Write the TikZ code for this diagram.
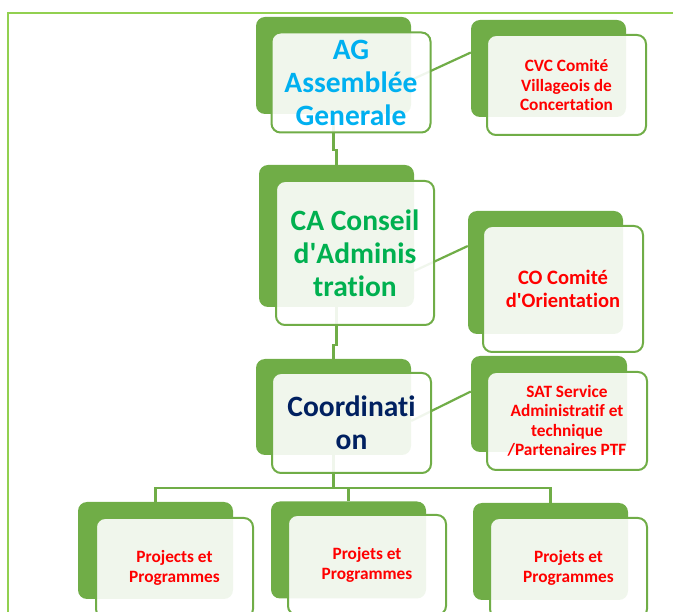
\documentclass[tikz,border=0pt]{standalone}
\usepackage{fontspec}
\setmainfont{Carlito}[Ligatures={TeX,NoCommon}]
\usetikzlibrary{calc}
\definecolor{leaf}{HTML}{70AD47}
\definecolor{framegreen}{HTML}{92D050}
\definecolor{agblue}{HTML}{00B0F0}
\definecolor{cagreen}{HTML}{00B050}
\definecolor{navy}{HTML}{002060}
\pgfdeclarelayer{background}
\pgfsetlayers{background,main}
\tikzset{
  backbox/.style={fill=leaf,rounded corners=9pt,minimum width=155pt,minimum height=97pt,inner sep=0pt},
  frontbox/.style={draw=leaf,line width=2pt,fill=white,fill opacity=0.9,text opacity=1,rounded corners=9pt,minimum width=159pt,minimum height=100pt,inner sep=0pt,align=center},
  bigtext/.style={font=\bfseries\fontsize{29.5}{33}\selectfont},
  smalltext/.style={text=red,font=\bfseries\fontsize{17.3}{19.5}\selectfont},
  link/.style={draw=leaf,line width=2.2pt},
}

\begin{document}
\begin{tikzpicture}[x=1pt,y=-1pt]
      \useasboundingbox (0,0) rectangle (673,612);
      \draw[framegreen,line width=2.5pt] (8,612) -- (8,13) -- (673,13);

      % top row
      \node[backbox] (agB) at (333.5,65.5) {};
      \node[frontbox,bigtext,text=agblue] (agF) at (351,82.5) {AG\\Assemblée\\Generale};
      \node[backbox] (cvcB) at (548.5,68.5) {};
      \node[frontbox,smalltext] (cvcF) at (566.5,85) {CVC Comité\\Villageois de\\Concertation};

      % second row
      \node[backbox,minimum height=142pt] (caB) at (336.5,236) {};
      \node[frontbox,bigtext,text=cagreen,minimum width=158pt,minimum height=144pt] (caF) at (355,253) {CA Conseil\\d\textquotesingle Adminis\\tration};
      \node[backbox,minimum height=123pt] (coB) at (545.5,272.5) {};
      \node[frontbox,text=red,font=\bfseries\fontsize{20.5}{23}\selectfont,minimum width=160pt,minimum height=126pt] (coF) at (563,289) {CO Comité\\d\textquotesingle Orientation};

      % third row
      \node[backbox,minimum height=96pt] (coordB) at (333.5,407) {};
      \node[frontbox,bigtext,text=navy] (coordF) at (351.5,423) {Coordinati\\on};
      \node[backbox,minimum width=156pt,minimum height=96pt] (satB) at (549,404) {};
      \node[frontbox,smalltext,minimum width=160pt,minimum height=98pt] (satF) at (567,421) {SAT Service\\Administratif et\\technique\\/Partenaires PTF};

      % bottom row
      \node[backbox] (p1B) at (155.5,550.5) {};
      \node[frontbox,smalltext,minimum width=157pt] (p1F) at (174.5,568) {Projects et\\Programmes};
      \node[backbox] (p2B) at (348.5,550) {};
      \node[frontbox,smalltext,minimum width=158pt] (p2F) at (367,565) {Projets et\\Programmes};
      \node[backbox] (p3B) at (550.5,551.5) {};
      \node[frontbox,smalltext,minimum width=157pt] (p3F) at (568.5,568) {Projets et\\Programmes};

      \begin{pgfonlayer}{background}
        \draw[link] (agB.south) -- ++(0,36) -| (caB.north);
        \draw[link] (caB.south) -- ++(0,38) -| (coordB.north);
        \draw[link] (coordB.south) -- ++(0,33) coordinate (bus);
        \draw[link] (bus) -| (p1B.north);
        \draw[link] (bus) -| (p2B.north);
        \draw[link] (bus) -| (p3B.north);

        \draw[link] ([yshift=-14.5pt]agB.east) -- ([yshift=16pt]cvcB.west);
        \draw[link] ([yshift=-35pt]caB.east) -- ([yshift=26.5pt]coB.west);
        \draw[link] ([yshift=-14pt]coordB.east) -- ([yshift=12.5pt]satB.west);
      \end{pgfonlayer}
\end{tikzpicture}
\end{document}
